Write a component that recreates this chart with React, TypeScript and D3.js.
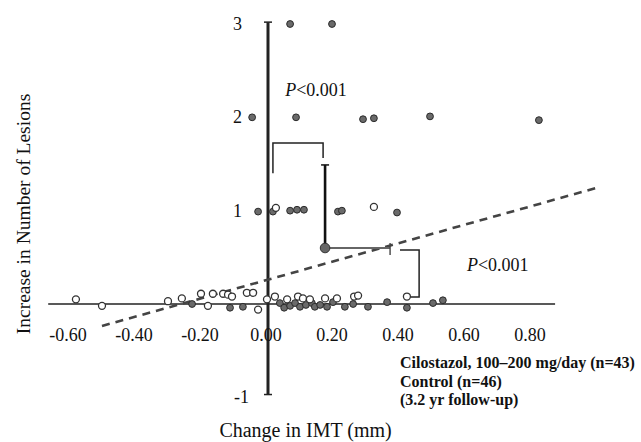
import React from "react";
import * as d3 from "d3";

// Filled circles (control)
const controlPoints: [number, number][] = [
  [0.073, 3.0], [0.2, 3.0],
  [-0.042, 2.0], [0.091, 2.0], [0.294, 1.98], [0.327, 1.99], [0.497, 2.01], [0.827, 1.97],
  [-0.024, 0.99], [0.021, 0.99], [0.073, 1.0], [0.094, 1.01], [0.115, 1.01], [0.218, 0.99], [0.23, 1.0], [0.397, 0.98],
  [-0.224, 0], [-0.109, -0.04], [-0.07, -0.03], [0.042, 0.01], [0.055, -0.04], [0.073, -0.02],
  [0.088, 0.01], [0.103, -0.03], [0.121, -0.01], [0.139, 0.01], [0.148, -0.03], [0.164, -0.01],
  [0.185, -0.03], [0.203, 0.02], [0.239, -0.03], [0.264, 0], [0.309, -0.03], [0.367, 0.02],
  [0.427, -0.04], [0.506, 0.01], [0.536, 0.04],
];

// Open circles (cilostazol)
const cilostazolPoints: [number, number][] = [
  [0.03, 1.03], [0.327, 1.04],
  [-0.576, 0.05], [-0.497, -0.02], [-0.297, 0.03], [-0.255, 0.06], [-0.197, 0.11], [-0.176, -0.02],
  [-0.161, 0.11], [-0.13, 0.11], [-0.115, 0.1], [-0.103, 0.08], [-0.058, 0.12], [-0.039, 0.12],
  [-0.024, -0.06], [0.003, 0.05], [0.027, 0.08], [0.064, 0.05], [0.097, 0.08], [0.112, 0.06],
  [0.133, 0.05], [0.179, 0.06], [0.215, 0.06], [0.267, 0.08], [0.279, 0.09], [0.427, 0.08],
];

const xTicks = [-0.6, -0.4, -0.2, 0, 0.2, 0.4, 0.6, 0.8];
const yTicks = [3, 2, 1, -1];

// regression: y = a + b x
const regressionCoef = [0.255, 0.987];
const regressionRange = [-0.497, 1.012];

// mean marker
const meanPoint = [0.179, 0.6];
const meanXEnd = 0.376;
const meanYEnd = 1.49;

// significance brackets
const bracket1: [number, number][] = [[0.021, 1.4], [0.021, 1.725], [0.173, 1.725], [0.173, 1.565]];
const bracket2: [number, number][] = [[0.406, 0.579], [0.464, 0.579], [0.464, 0.075], [0.43, 0.075]];
const pLabels: [number, number][] = [[0.058, 2.23], [0.609, 0.354]];

const legendLines = [
  "Cilostazol, 100\u2013200 mg/day (n=43)",
  "Control (n=46)",
  "(3.2 yr follow-up)",
];

const W = 641;
const H = 442;

export default function App() {
  const x = d3.scaleLinear().domain([0, 0.8]).range([266, 530]);
  const y = d3.scaleLinear().domain([0, 3]).range([304, 24]);
  const line = d3.line<[number, number]>().x((d) => x(d[0])).y((d) => y(d[1]));
  const font = "'Liberation Serif', 'Times New Roman', serif";
  const regPts: [number, number][] = regressionRange.map((v) => [v, regressionCoef[0] + regressionCoef[1] * v]);
  const axisX = x(0) + 2;

  return (
    <svg width={W} height={H} style={{ position: "absolute", left: 0, top: 0, background: "#fff" }} fontFamily={font}>
      {/* x axis line */}
      <line x1={x(-0.66)} x2={x(0.876)} y1={y(0)} y2={y(0)} stroke="#222" strokeWidth={1.6} />
      {/* y axis line */}
      <line x1={axisX} x2={axisX} y1={y(3.02)} y2={y(-0.97)} stroke="#222" strokeWidth={3} />
      <line x1={axisX - 4} x2={axisX + 4} y1={y(3.02)} y2={y(3.02)} stroke="#222" strokeWidth={1.5} />
      <line x1={axisX - 4} x2={axisX + 4} y1={y(-0.97)} y2={y(-0.97)} stroke="#222" strokeWidth={1.5} />

      {/* x tick labels */}
      {xTicks.map((t) => (
        <text key={t} x={x(t)} y={y(0) + 37} fontSize={18} textAnchor="middle" fill="#111">
          {t.toFixed(2)}
        </text>
      ))}
      {/* y tick labels */}
      {yTicks.map((t) => (
        <text key={t} x={x(0) - (t < 0 ? 17 : 24)} y={y(t) + 6} fontSize={18} textAnchor="end" fill="#111">
          {t}
        </text>
      ))}

      {/* regression dashed line */}
      <path d={line(regPts) || ""} fill="none" stroke="#444" strokeWidth={2.6} strokeDasharray="8,6" />

      {/* brackets */}
      <path d={line(bracket1) || ""} fill="none" stroke="#222" strokeWidth={1.5} />
      <path d={line(bracket2) || ""} fill="none" stroke="#222" strokeWidth={1.5} />

      {/* points */}
      {controlPoints.map((p, i) => (
        <circle key={"c" + i} cx={x(p[0])} cy={y(p[1])} r={3.4} fill="#6a6a6a" stroke="#2a2a2a" strokeWidth={1} />
      ))}
      {cilostazolPoints.map((p, i) => (
        <circle key={"o" + i} cx={x(p[0])} cy={y(p[1])} r={3.5} fill="#fff" stroke="#333" strokeWidth={1.3} />
      ))}

      {/* mean marker */}
      <line x1={x(meanPoint[0])} x2={x(meanPoint[0])} y1={y(meanPoint[1])} y2={y(meanYEnd)} stroke="#111" strokeWidth={2.6} />
      <line x1={x(meanPoint[0]) - 4} x2={x(meanPoint[0]) + 4} y1={y(meanYEnd)} y2={y(meanYEnd)} stroke="#111" strokeWidth={1.5} />
      <line x1={x(meanPoint[0])} x2={x(meanXEnd)} y1={y(meanPoint[1])} y2={y(meanPoint[1])} stroke="#666" strokeWidth={2.2} />
      <line x1={x(meanXEnd)} x2={x(meanXEnd)} y1={y(meanPoint[1]) - 5} y2={y(meanPoint[1]) + 7} stroke="#444" strokeWidth={1.4} />
      <circle cx={x(meanPoint[0])} cy={y(meanPoint[1])} r={4.8} fill="#666" stroke="#333" strokeWidth={1} />

      {/* P labels */}
      {pLabels.map((p, i) => (
        <text key={"p" + i} x={x(p[0])} y={y(p[1])} fontSize={18} fill="#111">
          <tspan fontStyle="italic">P</tspan>
          <tspan>{"<0.001"}</tspan>
        </text>
      ))}

      {/* legend */}
      {legendLines.map((s, i) => (
        <text key={s} x={400} y={368 + i * 18.5} fontSize={16} fontWeight="bold" fill="#111">
          {s}
        </text>
      ))}

      {/* axis titles */}
      <text x={x(0.12)} y={437} fontSize={20} textAnchor="middle" fill="#111">
        Change in IMT (mm)
      </text>
      <text transform={`translate(30,214) rotate(-90)`} fontSize={19.5} textAnchor="middle" fill="#111">
        Increase in Number of Lesions
      </text>
    </svg>
  );
}
